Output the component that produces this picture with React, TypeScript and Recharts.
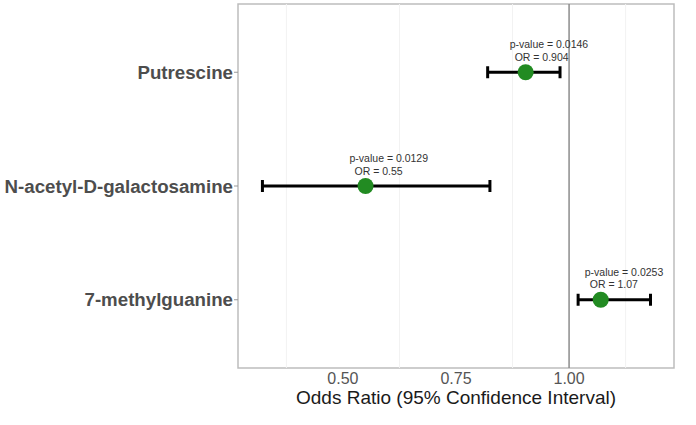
import React from 'react';
import {
  ScatterChart,
  Scatter,
  XAxis,
  YAxis,
  ErrorBar,
  ReferenceLine,
  ReferenceArea,
} from 'recharts';

const metabolites = ['Putrescine', 'N-acetyl-D-galactosamine', '7-methylguanine'];
const rowPositions = [3, 2, 1];
const oddsRatios = [0.904, 0.55, 1.07];
const ciLower = [0.82, 0.322, 1.02];
const ciUpper = [0.98, 0.825, 1.18];
const pValues = ['0.0146', '0.0129', '0.0253'];
const orLabels = ['0.904', '0.55', '1.07'];

const xTicks = [0.5, 0.75, 1.0];
const minorGrid = [0.375, 0.625, 0.875, 1.125];
const xDomain = [0.268, 1.232];
const yDomain = [0.4, 3.6];

const FONT = '"Liberation Sans", Arial, Helvetica, sans-serif';

const rows = metabolites.map((name, i) => ({
  name,
  row: rowPositions[i],
  or: oddsRatios[i],
  ci: [oddsRatios[i] - ciLower[i], ciUpper[i] - oddsRatios[i]],
  pValue: pValues[i],
  orLabel: orLabels[i],
}));

// point + its two annotation lines
const PointWithLabel = (props: any) => {
  const { cx, cy, payload } = props;
  if (cx == null || cy == null) return null;
  return (
    <g>
      <circle cx={cx} cy={cy} r={8} fill="#228B22" />
      <text x={cx - 16} y={cy - 24} fontSize={10.5} fill="#333333" fontFamily={FONT}>
        {`p-value = ${payload.pValue}`}
      </text>
      <text x={cx - 11} y={cy - 11.5} fontSize={10.5} fill="#333333" fontFamily={FONT}>
        {`OR = ${payload.orLabel}`}
      </text>
    </g>
  );
};

const App: React.FC = () => {
  return (
    <div style={{ position: 'absolute', left: 0, top: 0, background: '#ffffff' }}>
      <ScatterChart
        width={696}
        height={425}
        margin={{ top: 4, right: 22, bottom: 7, left: 0 }}
      >
        <XAxis
          type="number"
          dataKey="or"
          domain={xDomain}
          ticks={xTicks}
          allowDataOverflow
          tickFormatter={(v: number) => v.toFixed(2)}
          tickLine={false}
          tickSize={5}
          tickMargin={0}
          axisLine={false}
          height={50}
          tick={{ fill: '#555555', fontSize: 16, fontFamily: FONT }}
          label={({ viewBox }: any) => (
            <text
              x={viewBox.x + viewBox.width / 2}
              y={viewBox.y + 36}
              textAnchor="middle"
              fontSize={19}
              fill="#1a1a1a"
              fontFamily={FONT}
            >
              Odds Ratio (95% Confidence Interval)
            </text>
          )}
        />
        <YAxis
          type="number"
          dataKey="row"
          domain={yDomain}
          ticks={rowPositions}
          allowDataOverflow
          width={238}
          tickFormatter={(v: number) => metabolites[rowPositions.indexOf(v)] ?? ''}
          tickSize={4}
          tickMargin={1}
          tickLine={{ stroke: '#999999' }}
          axisLine={false}
          tick={{ fill: '#4d4d4d', fontSize: 18.7, fontWeight: 'bold', fontFamily: FONT }}
        />
        {minorGrid.map((g) => (
          <ReferenceLine key={g} x={g} stroke="#f2f2f2" strokeWidth={1} />
        ))}
        <ReferenceArea
          x1={xDomain[0]}
          x2={xDomain[1]}
          y1={yDomain[0]}
          y2={yDomain[1]}
          fill="none"
          stroke="#bdbdbd"
          strokeWidth={1.5}
          ifOverflow="visible"
        />
        <ReferenceLine x={1} stroke="#8c8c8c" strokeWidth={1.5} />
        <Scatter data={rows} shape={<PointWithLabel />} isAnimationActive={false}>
          <ErrorBar
            dataKey="ci"
            direction="x"
            width={6}
            strokeWidth={3}
            stroke="#000000"
            isAnimationActive={false}
          />
        </Scatter>
      </ScatterChart>
    </div>
  );
};

export default App;
